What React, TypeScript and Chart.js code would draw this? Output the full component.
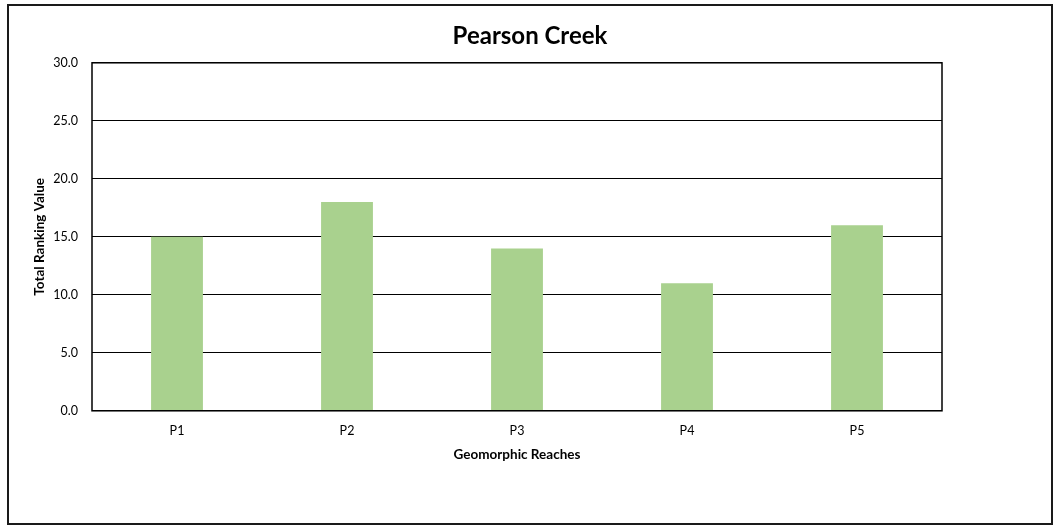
import React, { useEffect, useRef } from "react";
import { Chart, registerables } from "chart.js";

Chart.register(...registerables);

const reaches = ["P1", "P2", "P3", "P4", "P5"];
const rankingValues = [15, 18, 14, 11, 16];
const yMin = 0;
const yMax = 30;
const yStep = 5;

const FONT = "Lato, 'Open Sans', sans-serif";

// Frame the plot area with a solid outline on all four sides.
const plotFrame = {
  id: "plotFrame",
  afterDraw(chart: Chart) {
    const { ctx, chartArea } = chart;
    ctx.save();
    ctx.strokeStyle = "#000";
    ctx.lineWidth = 1.5;
    ctx.strokeRect(
      chartArea.left,
      chartArea.top,
      chartArea.right - chartArea.left,
      chartArea.bottom - chartArea.top
    );
    ctx.restore();
  },
};

export default function App() {
  const canvasRef = useRef<HTMLCanvasElement | null>(null);

  useEffect(() => {
    if (!canvasRef.current) return;
    const chart = new Chart(canvasRef.current, {
      type: "bar",
      data: {
        labels: reaches,
        datasets: [
          {
            data: rankingValues,
            backgroundColor: "#a9d18e",
            barPercentage: 0.305,
            categoryPercentage: 1,
          },
        ],
      },
      options: {
        animation: false,
        responsive: false,
        maintainAspectRatio: false,
        layout: { padding: { left: 10, right: 10, top: 0, bottom: 60 } },
        plugins: {
          legend: { display: false },
          tooltip: { enabled: false },
          title: {
            display: true,
            text: "Pearson Creek",
            color: "#000",
            font: { family: FONT, size: 24, weight: "bold" },
            padding: { top: 16, bottom: 12 },
          },
        },
        scales: {
          x: {
            grid: { display: false, drawTicks: false },
            border: { display: false },
            ticks: {
              color: "#000",
              font: { family: FONT, size: 12.5 },
              padding: 13,
            },
            title: {
              display: true,
              text: "Geomorphic Reaches",
              color: "#000",
              font: { family: FONT, size: 13.5, weight: "bold" },
              padding: { top: -5, bottom: 0 },
            },
          },
          y: {
            min: yMin,
            max: yMax,
            grid: { color: "#000", lineWidth: 1, drawTicks: false },
            border: { display: false },
            ticks: {
              stepSize: yStep,
              color: "#000",
              font: { family: FONT, size: 12.5 },
              padding: 14,
              callback: (v) => Number(v).toFixed(1),
            },
            title: {
              display: true,
              text: "Total Ranking Value",
              color: "#000",
              font: { family: FONT, size: 13.5, weight: "bold" },
              padding: { top: 13, bottom: 0 },
            },
            afterFit(scale) {
              scale.width = 73;
            },
          },
          // Empty right-hand axis that reserves the blank margin beside the plot.
          yRight: {
            position: "right",
            display: true,
            min: yMin,
            max: yMax,
            grid: { display: false, drawTicks: false },
            border: { display: false },
            ticks: { display: false },
            afterFit(scale) {
              scale.width = 99;
            },
          },
        },
      },
      plugins: [plotFrame],
    });
    return () => chart.destroy();
  }, []);

  return (
    <div
      style={{
        position: "absolute",
        left: 7,
        top: 4,
        width: 1042,
        height: 517,
        border: "2px solid #1a1a1a",
        background: "#fff",
      }}
    >
      <canvas ref={canvasRef} width={1042} height={517} style={{ display: "block" }} />
    </div>
  );
}
